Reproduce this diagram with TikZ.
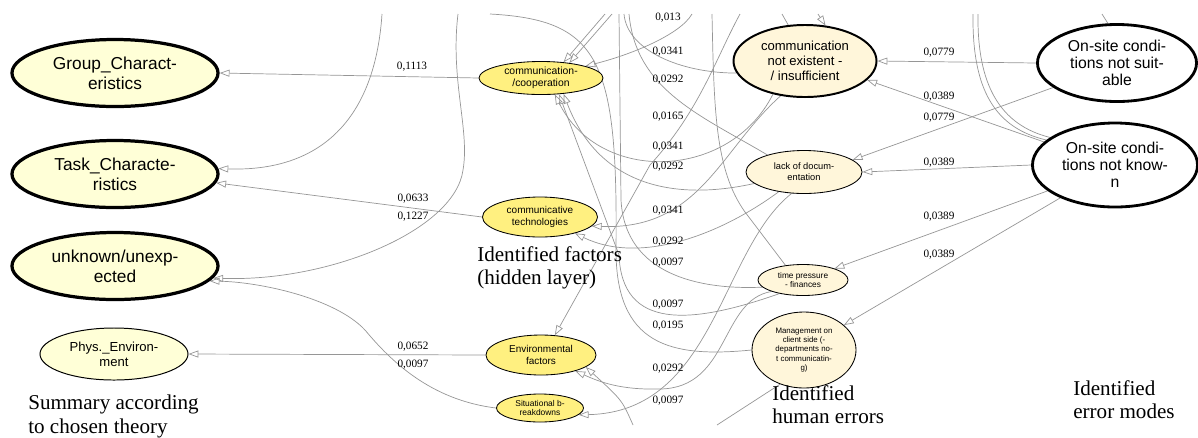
\documentclass[tikz,border=0pt]{standalone}
\usepackage{fontspec}
\setmainfont{Liberation Serif}
\setsansfont{Liberation Sans}
\usepackage{tikz}
\usetikzlibrary{arrows.meta, shapes.geometric, backgrounds}
\definecolor{summyellow}{RGB}{255,255,215}
\definecolor{hiddenyellow}{RGB}{255,240,128}
\definecolor{humancream}{RGB}{255,246,218}
\definecolor{edgegrey}{RGB}{150,150,150}

\begin{document}
\begin{tikzpicture}[x=0.025cm, y=-0.025cm, line cap=round, line join=round,
	>={Triangle[open,length=7pt,width=5pt]},
	summ/.style={ellipse, draw, line width=2.3pt, fill=summyellow, inner sep=0pt, align=center,
		font=\sffamily\fontsize{12.3}{14.2}\selectfont, minimum width=5.15cm, minimum height=1.675cm},
	hidden/.style={ellipse, draw, line width=0.6pt, fill=hiddenyellow, inner sep=0pt, align=center,
		font=\sffamily\fontsize{7.1}{8}\selectfont},
	human/.style={ellipse, draw, line width=0.6pt, fill=humancream, inner sep=0pt, align=center,
		font=\sffamily\fontsize{6.6}{7.8}\selectfont},
	errmode/.style={ellipse, draw, line width=2pt, fill=white, inner sep=0pt, align=center,
		font=\sffamily\fontsize{11.2}{12}\selectfont},
	wire/.style={draw=edgegrey, line width=0.5pt},
	weight/.style={font=\fontsize{8}{9}\selectfont, inner sep=0pt},
	layer/.style={font=\fontsize{15}{16.5}\selectfont, align=left, anchor=north west, inner sep=0pt}]
	\useasboundingbox (0,0) rectangle (1198,437);

	% summary according to theory
	\node[summ] (group) at (115,73) {Group\_Charact-\\eristics};
	\node[summ] (task) at (115,174) {Task\_Characte-\\ristics};
	\node[summ] (unknown) at (115,266) {unknown/unexp-\\ected};
	\node[summ, line width=0.7pt, font=\sffamily\fontsize{9.3}{10.7}\selectfont,
		minimum width=3.7cm, minimum height=1.3cm] (phys) at (114,354) {Phys.\_Environ-\\ment};

	% hidden layer
	\node[hidden, font=\sffamily\fontsize{7.4}{8.5}\selectfont, minimum width=3.1cm, minimum height=0.825cm] (comm) at (541,78) {communication-\\/cooperation};
	\node[hidden, minimum width=2.875cm, minimum height=1cm] (tech) at (540,217) {communicative\\technologies};
	\node[hidden, minimum width=2.75cm, minimum height=1cm] (env) at (541,355) {Environmental\\factors};
	\node[hidden, font=\sffamily\fontsize{6}{6.8}\selectfont, minimum width=2.175cm, minimum height=0.7cm] (sit) at (540,408) {Situational b-\\reakdowns};

	% human errors
	\node[human, line width=1.4pt, font=\sffamily\fontsize{9.3}{10.7}\selectfont, minimum width=3.575cm, minimum height=1.8cm] (cne) at (805,61) {communication\\not existent -\\/ insufficient};
	\node[human, minimum width=2.9cm, minimum height=1.075cm] (doc) at (804,172) {lack of docum-\\entation};
	\node[human, font=\sffamily\fontsize{5.9}{6.8}\selectfont, minimum width=2.25cm, minimum height=0.775cm] (time) at (803,280) {time pressure\\- finances};
	\node[human, font=\sffamily\fontsize{5.6}{6.5}\selectfont, minimum width=2.6cm, minimum height=1.9cm] (mgmt) at (804,350) {Management on\\client side (-\\departments no-\\t communicatin-\\g)};

	% error modes
	\node[errmode, minimum width=3.975cm, minimum height=1.925cm] (suit) at (1117,63) {On-site condi-\\tions not suit-\\able};
	\node[errmode, minimum width=4.125cm, minimum height=2.1cm] (known) at (1115,165) {On-site condi-\\tions not know-\\n};

	% loose ends at the cut edges
	\coordinate (tA) at (382,14);
	\coordinate (tB) at (458,14);
	\coordinate (t490) at (490,14);
	\coordinate (t605) at (605,14);
	\coordinate (t612) at (612,14);
	\coordinate (t619) at (619,14);
	\coordinate (t624) at (624,14);
	\coordinate (t629) at (629,14);
	\coordinate (t692) at (692,14);
	\coordinate (t712) at (712,14);
	\coordinate (t740) at (740,14);
	\coordinate (tC2) at (782,14);
	\coordinate (tC1) at (818,14);
	\coordinate (tR1) at (973,14);
	\coordinate (tR2) at (978,14);
	\coordinate (tR3) at (1102,14);
	\coordinate (b633) at (633,425);
	\coordinate (b717) at (717,425);

	\begin{scope}[on background layer]
	% hidden layer -> summary
	\draw[wire,->] (comm.west) -- (group.east);
	\draw[wire,->] (tech.west) -- (task.-5);
	\draw[wire,->] (env.west) -- (phys.east);
	\draw[wire,->] (tA) .. controls (375,120) and (320,172) .. (task.3);
	\draw[wire,->] (tB) .. controls (450,80) and (470,130) .. (463,170) .. controls (455,230) and (330,282) .. (unknown.-7);
	\draw[wire,->] (sit.west) .. controls (430,400) and (390,360) .. (365,330) .. controls (335,298) and (260,282) .. (unknown.-9);

	% human errors -> hidden layer
	\draw[wire,->] (t692) .. controls (680,35) and (630,55) .. (comm.15);
	\draw[wire,->] (t605) -- (comm.35);
	\draw[wire,->] (t612) -- (comm.28);
	\draw[wire,->] (cne.226) .. controls (730,180) and (600,185) .. (comm.-50);
	\draw[wire,->] (doc.193) .. controls (680,200) and (600,190) .. (comm.-35);
	\draw[wire,->] (time.210) .. controls (690,325) and (622,330) .. (619,255) -- (comm.-42);
	\draw[wire] (mgmt.west) .. controls (670,358) and (616,345) .. (616,250) .. controls (618,60) and (600,20) .. (t490);
	\draw[wire] (cne.190) .. controls (680,73) and (627,50) .. (t624);
	\draw[wire] (doc.155) .. controls (700,115) and (636,90) .. (t629);
	\draw[wire] (time.190) .. controls (700,290) and (625,275) .. (621,200) -- (t619);
	\draw[wire] (t712) .. controls (714,110) and (715,170) .. (745,212) -- (time.140);
	\draw[wire,->] (t740) .. controls (715,60) and (700,110) .. (650,165) -- (env.55);
	\draw[wire,->] (time.200) .. controls (720,300) and (730,388) .. (660,389) .. controls (620,390) and (600,382) .. (env.-25);
	\draw[wire,->] (b633) .. controls (622,400) .. (env.-15);
	\draw[wire,->] (doc.240) .. controls (720,250) and (715,412) .. (sit.-10);
	\draw[wire] (mgmt.235) -- (b717);
	\draw[wire,->] (cne.235) .. controls (720,150) and (700,230) .. (tech.-10);
	\draw[wire,->] (doc.218) .. controls (720,235) and (640,265) .. (tech.-25);

	% error modes -> human errors
	\draw[wire,->] (suit.west) -- (cne.east);
	\draw[wire,->] (known.162) -- (cne.-17);
	\draw[wire,->] (suit.201) -- (doc.14);
	\draw[wire,->] (known.west) -- (doc.east);
	\draw[wire,->] (known.201) -- (time.20);
	\draw[wire,->] (known.211) -- (mgmt.32);
	\draw[wire] (tR1) .. controls (972,90) and (995,128) .. (known.160);
	\draw[wire] (tR2) .. controls (977,85) and (1000,125) .. (known.157);
	\draw[wire] (tR3) -- (suit.103);
	\draw[wire,->] (tC1) -- (cne.60);
	\draw[wire] (tC2) -- (cne.115);
	\end{scope}

	% weights
	\node[weight] (w1) at (412,67) {0,1113};
	\node[weight] (w2) at (413,199) {0,0633};
	\node[weight] (w3) at (413,217) {0,1227};
	\node[weight] (w4) at (413,347) {0,0652};
	\node[weight] (w5) at (413,365) {0,0097};
	\node[weight] (w6) at (668,18) {0,013};
	\node[weight] (w7) at (668,52) {0,0341};
	\node[weight] (w8) at (668,80) {0,0292};
	\node[weight] (w9) at (668,117) {0,0165};
	\node[weight] (w10) at (668,147) {0,0341};
	\node[weight] (w11) at (668,167) {0,0292};
	\node[weight] (w12) at (668,211) {0,0341};
	\node[weight] (w13) at (668,242) {0,0292};
	\node[weight] (w14) at (668,263) {0,0097};
	\node[weight] (w15) at (668,305) {0,0097};
	\node[weight] (w16) at (668,326) {0,0195};
	\node[weight] (w17) at (668,369) {0,0292};
	\node[weight] (w18) at (668,401) {0,0097};
	\node[weight] (w19) at (939,53) {0,0779};
	\node[weight] (w20) at (939,97) {0,0389};
	\node[weight] (w21) at (939,118) {0,0779};
	\node[weight] (w22) at (939,163) {0,0389};
	\node[weight] (w23) at (939,217) {0,0389};
	\node[weight] (w24) at (939,255) {0,0389};

	% layer captions
	\node[layer] (capsum) at (28,395) {Summary according\\to chosen theory};
	\node[layer] (capfac) at (477,246) {Identified factors\\(hidden layer)};
	\node[layer] (caphum) at (772,385) {Identified\\human errors};
	\node[layer] (capmod) at (1073,380) {Identified\\error modes};
\end{tikzpicture}
\end{document}
